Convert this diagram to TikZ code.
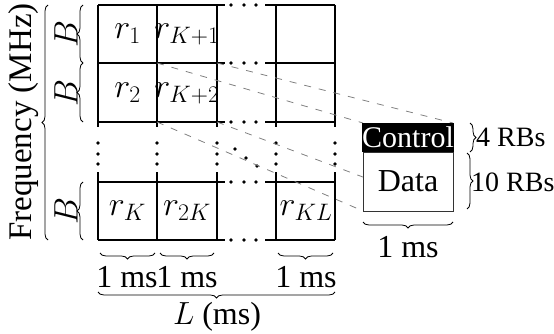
\RequirePackage{fix-cm}
\documentclass[tikz,border=0pt]{standalone}
\usepackage{fontspec}
\setmainfont{Liberation Serif}
\usetikzlibrary{decorations.pathreplacing}
\begin{document}
\begin{tikzpicture}[x=1pt,y=-1pt,
  grid/.style={line width=2.5pt},
  dotmark/.style={circle,fill=black,inner sep=0pt,minimum size=3.8pt},
  link/.style={black!50,dash pattern=on 7pt off 8pt,line width=0.8pt},
  brc/.style={decorate,decoration={brace,amplitude=6pt},line width=0.8pt},
  lbl/.style={font=\fontsize{32}{38}\selectfont,inner sep=0pt},
  mlbl/.style={font=\fontsize{34}{40}\selectfont,inner sep=0pt},
  smalllbl/.style={font=\fontsize{28}{33}\selectfont,inner sep=0pt,anchor=west}]
\useasboundingbox (0,0) rectangle (554,334);

% horizontal grid lines with dotted gap between column 3 and 4
\foreach \y in {5,63,122,182,240}{
  \draw[grid] (98,\y) -- (225,\y);
  \draw[grid] (265,\y) -- (335,\y);
  \foreach \x in {231,244,256} \node[dotmark] at (\x,\y) {};
}
% vertical grid lines with dotted gap between rows 3 and K
\foreach \x in {98,157,217,276,335}{
  \draw[grid] (\x,5) -- (\x,127);
  \draw[grid] (\x,172) -- (\x,240);
  \foreach \y in {143,154,164} \node[dotmark] at (\x,\y) {};
}
% diagonal dots
\foreach \p in {(235,149),(246,158),(257,166)} \node[dotmark] at \p {};

% cell corners of r_{K+2}
\coordinate (c1) at (157,63);
\coordinate (c2) at (217,63);
\coordinate (c3) at (157,122);
\coordinate (c4) at (217,122);
% box corners
\coordinate (b1) at (363,123);
\coordinate (b2) at (453,123);
\coordinate (b3) at (363,211);
\coordinate (b4) at (453,211);
\draw[link] (c1) -- (b1);
\draw[link] (c2) -- (b2);
\draw[link] (c3) -- (b3);
\draw[link] (c4) -- (b4);

% control / data box
\node[draw=black!80,fill=white,line width=0.8pt,minimum width=90pt,minimum height=59pt,lbl] (data) at (408,181.5) {Data};
\node[fill=black,text=white,minimum width=90pt,minimum height=29pt,inner sep=0pt,font=\fontsize{30}{36}\selectfont] (ctrl) at (408,137.5) {Control};

% cell labels
\node[mlbl] (r1) at (127.5,34) {$r_1$};
\node[mlbl] (rk1) at (187,34) {$r_{K+1}$};
\node[mlbl] (r2) at (127.5,93) {$r_2$};
\node[mlbl] (rk2) at (187,93) {$r_{K+2}$};
\node[mlbl] (rk) at (127.5,211) {$r_K$};
\node[mlbl] (r2k) at (187,211) {$r_{2K}$};
\node[mlbl] (rkl) at (306,211) {$r_{KL}$};

% left braces
\draw[brc] (83,63) -- (83,5);
\draw[brc] (83,122) -- (83,63);
\draw[brc] (83,240) -- (83,182);
\node[mlbl,rotate=90] (bb1) at (66,34) {$B$};
\node[mlbl,rotate=90] (bb2) at (66,93) {$B$};
\node[mlbl,rotate=90] (bb3) at (66,211) {$B$};
\draw[brc] (48,240) -- (48,5);
\node[lbl,rotate=90,font=\fontsize{33}{40}\selectfont] (freq) at (24,122) {Frequency (MHz)};

% bottom braces
\draw[brc] (155,253) -- (100,253);
\draw[brc] (214,253) -- (160,253);
\draw[brc] (333,253) -- (278,253);
\node[lbl] (t1) at (127,277) {1 ms};
\node[lbl] (t2) at (187,277) {1 ms};
\node[lbl] (t3) at (306,277) {1 ms};
\draw[brc] (335,292) -- (98,292);
\node[lbl] (tl) at (217,317) {$L$ (ms)};

% box braces
\draw[brc] (470,123) -- (470,152);
\draw[brc] (467,153) -- (467,209);
\node[smalllbl] (rb4) at (476,137) {4 RBs};
\node[smalllbl] (rb10) at (471,182) {10 RBs};
\draw[brc] (453,222) -- (363,222);
\node[lbl] (t4) at (408,247) {1 ms};
\end{tikzpicture}
\end{document}
